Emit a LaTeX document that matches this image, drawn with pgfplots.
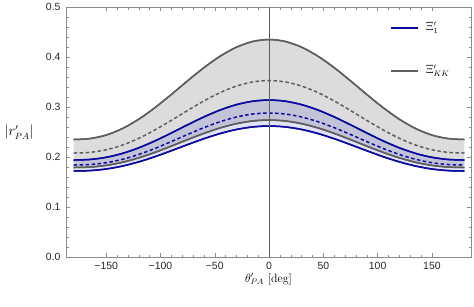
\documentclass[border=0pt]{standalone}
\usepackage{fontspec}
\newfontfamily\tickfont{Liberation Sans}
\usepackage{pgfplots}
\usepackage{pgfplotstable}
\pgfplotsset{compat=1.18}
\usepgfplotslibrary{fillbetween}
\definecolor{dblue}{HTML}{0A0AA0}
\definecolor{dgray}{HTML}{5E5E5E}
\definecolor{fgray}{HTML}{DCDCDC}
\definecolor{bfill}{HTML}{3030C0}
\definecolor{frame}{HTML}{8C8C8C}
\pgfplotstableread{
theta GT GD BT BD GB BB
-180 0.2350 0.2080 0.1940 0.1840 0.1790 0.1720
-165 0.2369 0.2093 0.1951 0.1850 0.1799 0.1728
-150 0.2439 0.2145 0.1994 0.1886 0.1832 0.1760
-135 0.2570 0.2239 0.2072 0.1954 0.1894 0.1819
-120 0.2756 0.2374 0.2184 0.2051 0.1983 0.1903
-105 0.2989 0.2543 0.2323 0.2172 0.2093 0.2007
-90 0.3251 0.2733 0.2481 0.2309 0.2218 0.2126
-75 0.3524 0.2931 0.2645 0.2451 0.2348 0.2248
-60 0.3787 0.3122 0.2802 0.2587 0.2472 0.2366
-45 0.4017 0.3289 0.2940 0.2707 0.2582 0.2470
-30 0.4197 0.3419 0.3048 0.2800 0.2667 0.2551
-15 0.4311 0.3502 0.3116 0.2860 0.2721 0.2602
0 0.4350 0.3530 0.3140 0.2880 0.2740 0.2620
15 0.4311 0.3502 0.3116 0.2860 0.2721 0.2602
30 0.4197 0.3419 0.3048 0.2800 0.2667 0.2551
45 0.4017 0.3289 0.2940 0.2707 0.2582 0.2470
60 0.3787 0.3122 0.2802 0.2587 0.2472 0.2366
75 0.3524 0.2931 0.2645 0.2451 0.2348 0.2248
90 0.3251 0.2733 0.2481 0.2309 0.2218 0.2126
105 0.2989 0.2543 0.2323 0.2172 0.2093 0.2007
120 0.2756 0.2374 0.2184 0.2051 0.1983 0.1903
135 0.2570 0.2239 0.2072 0.1954 0.1894 0.1819
150 0.2439 0.2145 0.1994 0.1886 0.1832 0.1760
165 0.2369 0.2093 0.1951 0.1850 0.1799 0.1728
180 0.2350 0.2080 0.1940 0.1840 0.1790 0.1720
}\datatable
\begin{document}
\begin{tikzpicture}
\begin{axis}[
  scale only axis, width=405bp, height=250bp,
  xmin=-187, xmax=186, ymin=0, ymax=0.5,
  axis line style={frame, line width=0.6pt},
  tick style={frame, line width=0.5pt},
  major tick length=4bp, minor tick length=2.5bp,
  tick align=inside,
  xtick={-150,-100,-50,0,50,100,150},
  xticklabels={−150,−100,−50,0,50,100,150},
  ytick={0,0.1,0.2,0.3,0.4,0.5},
  yticklabels={0.0,0.1,0.2,0.3,0.4,0.5},
  minor x tick num=4, minor y tick num=4,
  ticklabel style={font=\tickfont\fontsize{10.5}{12}\selectfont, text=black!85},
  xticklabel style={yshift=-2bp},
  yticklabel style={xshift=-2bp},
  xlabel={$\theta'_{PA}\ [\mathrm{deg}]$},
  ylabel={$|r'_{PA}|$},
  xlabel style={font=\fontsize{12}{14}\selectfont, at={(axis description cs:0.5,0)}, anchor=center, yshift=-22bp},
  ylabel style={font=\fontsize{13.5}{15}\selectfont, rotate=-90, at={(axis description cs:0,0.5)}, anchor=center, xshift=-47bp},
]
\coordinate (sw) at (rel axis cs:0,0);
\addplot[name path=gt, dgray, line width=1.5pt, smooth] table[x=theta,y=GT]{\datatable};
\addplot[name path=gb, dgray, line width=1.5pt, smooth] table[x=theta,y=GB]{\datatable};
\addplot[fgray] fill between[of=gt and gb];
\addplot[name path=bt, dblue, line width=1.5pt, smooth] table[x=theta,y=BT]{\datatable};
\addplot[name path=bb, dblue, line width=1.5pt, smooth] table[x=theta,y=BB]{\datatable};
\addplot[bfill, fill opacity=0.14] fill between[of=bt and bb];
\addplot[dgray, line width=1.5pt, smooth] table[x=theta,y=GT]{\datatable};
\addplot[dgray, line width=1.5pt, smooth] table[x=theta,y=GB]{\datatable};
\addplot[dgray, line width=1.5pt, smooth, dash pattern=on 3.5bp off 2.5bp] table[x=theta,y=GD]{\datatable};
\addplot[dblue, line width=1.5pt, smooth] table[x=theta,y=BT]{\datatable};
\addplot[dblue, line width=1.5pt, smooth] table[x=theta,y=BB]{\datatable};
\addplot[dblue, line width=1.5pt, smooth, dash pattern=on 3.5bp off 2.5bp] table[x=theta,y=BD]{\datatable};
\addplot[dgray, line width=0.8pt] coordinates {(0,0) (0,0.5)};
\draw[dblue, line width=1.5pt] (rel axis cs:0.8025,0.916) -- (rel axis cs:0.869,0.916);
\node[anchor=west, font=\fontsize{12}{14}\selectfont] at (rel axis cs:0.88,0.916) {$\Xi'_1$};
\draw[dgray, line width=1.5pt] (rel axis cs:0.8025,0.744) -- (rel axis cs:0.869,0.744);
\node[anchor=west, font=\fontsize{12}{14}\selectfont] at (rel axis cs:0.88,0.744) {$\Xi'_{KK}$};
\end{axis}
\path (sw) ++(-66bp,-49bp) rectangle ++(474bp,306bp);
\end{tikzpicture}
\end{document}
